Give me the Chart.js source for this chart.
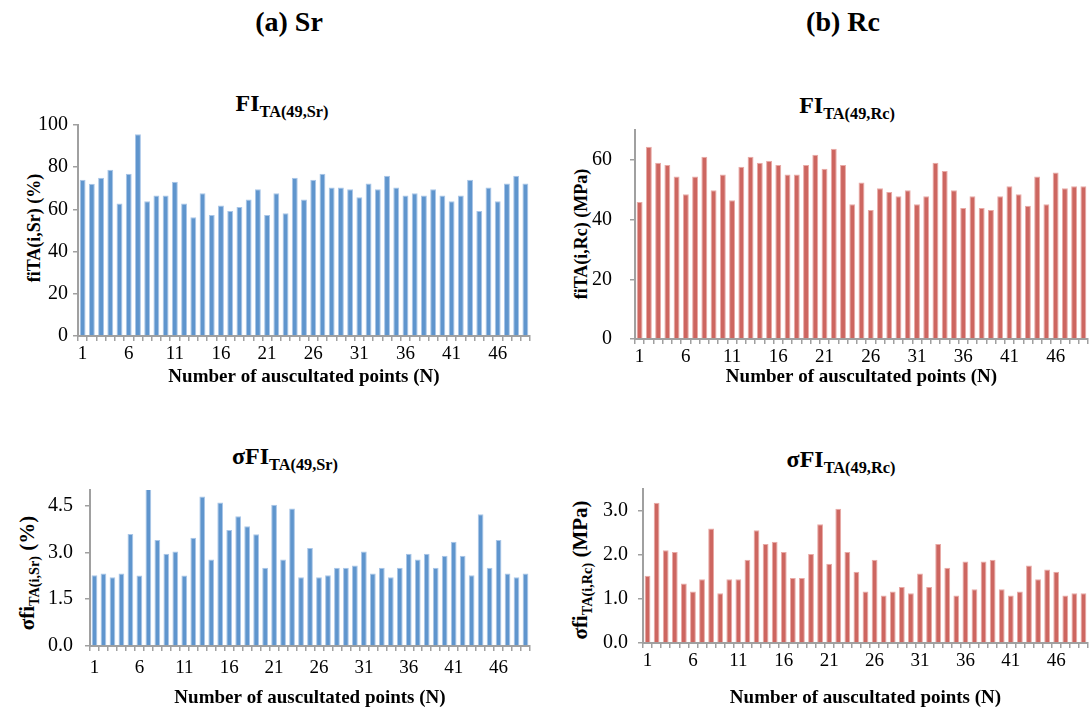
<!DOCTYPE html>
<html>
<head>
<meta charset="utf-8">
<script src="https://cdn.jsdelivr.net/npm/chart.js@4"></script>
<style>
    body {
        margin: 0;
        width: 1092px;
        height: 721px;
        background: #fff;
        position: relative;
        overflow: hidden;
        font-family: "Liberation Serif", "Times New Roman", serif;
        color: #000;
    }
    canvas { position: absolute; }
    .t {
        position: absolute;
        font-weight: bold;
        white-space: nowrap;
        transform: translate(-50%, -50%);
    }
    .yt {
        position: absolute;
        font-weight: bold;
        white-space: nowrap;
        font-size: 18px;
        transform: translate(-50%, -50%) rotate(-90deg);
    }
    sub { font-size: 0.68em; vertical-align: -0.35em; }
</style>
</head>
<body>

<div class="t" style="left:289px;top:22px;font-size:28px">(a) Sr</div>
<div class="t" style="left:843px;top:22px;font-size:28px">(b) Rc</div>

<div class="t" style="left:282px;top:106px;font-size:24px">FI<sub>TA(49,Sr)</sub></div>
<div class="t" style="left:847px;top:108px;font-size:24px">FI<sub>TA(49,Rc)</sub></div>
<div class="t" style="left:285px;top:459px;font-size:24px">σFI<sub>TA(49,Sr)</sub></div>
<div class="t" style="left:841px;top:462px;font-size:24px">σFI<sub>TA(49,Rc)</sub></div>

<div class="yt" style="left:34px;top:228px">fiTA(i,Sr) (%)</div>
<div class="yt" style="left:581px;top:234px">fiTA(i,Rc) (MPa)</div>
<div class="yt" style="left:29px;top:573px;font-size:21px">σfi<sub>TA(i,Sr)</sub> (%)</div>
<div class="yt" style="left:582px;top:570px;font-size:21px">σfi<sub>TA(i,Rc)</sub> (MPa)</div>

<canvas id="srMeanChart" width="540" height="283" style="left:0px;top:108px"></canvas>
<canvas id="rcMeanChart" width="547" height="291" style="left:545px;top:100px"></canvas>
<canvas id="srSigmaChart" width="540" height="246" style="left:0px;top:466px"></canvas>
<canvas id="rcSigmaChart" width="547" height="245" style="left:545px;top:467px"></canvas>

<script>
// auscultated points N = 1..49
const points = ["1", "2", "3", "4", "5", "6", "7", "8", "9", "10",
    "11", "12", "13", "14", "15", "16", "17", "18", "19", "20",
    "21", "22", "23", "24", "25", "26", "27", "28", "29", "30",
    "31", "32", "33", "34", "35", "36", "37", "38", "39", "40",
    "41", "42", "43", "44", "45", "46", "47", "48", "49"];

// only every 5th point gets a label
const shownLabels = ["1", "6", "11", "16", "21", "26", "31", "36", "41", "46"];

// y tick values of each panel
const srMeanTicks = [0, 20, 40, 60, 80, 100];
const rcMeanTicks = [0, 20, 40, 60];
const srSigmaTicks = [0, 1.5, 3.0, 4.5];
const rcSigmaTicks = [0, 1.0, 2.0, 3.0];

// fiTA(i,Sr) (%)
const srMean = [74, 72.2, 75, 78.8, 62.8, 76.9, 95.6, 63.9, 66.6, 66.6,
    73.1, 62.8, 56.3, 67.6, 57.3, 61.9, 59.2, 61.1, 64.7, 69.5,
    57.3, 67.6, 58.2, 75, 64.7, 74, 76.9, 70.4, 70.4, 69.5,
    65.7, 72.3, 69.5, 75.9, 70.4, 66.6, 67.6, 66.6, 69.5, 66.6,
    63.9, 66.6, 74, 59.2, 70.4, 63.9, 72.3, 75.9, 72.3];

// fiTA(i,Rc) (MPa)
const rcMean = [45.9, 64.4, 59, 58.3, 54.4, 48.5, 54.4, 61, 49.8, 55.1,
    46.5, 57.7, 61, 59, 59.7, 58.3, 55.1, 55.1, 58.3, 61.7,
    57, 63.7, 58.3, 45.1, 52.4, 43.2, 50.5, 49.2, 47.8, 49.8,
    45.1, 47.8, 59, 56.3, 49.8, 43.9, 47.8, 43.9, 43.2, 47.8,
    51.2, 48.5, 44.6, 54.4, 45.1, 55.8, 50.5, 51.2, 51.2];

// σfiTA(i,Sr) (%)
const srSigma = [2.27, 2.32, 2.2, 2.32, 3.59, 2.26, 5.08, 3.4, 2.96, 3.03,
    2.26, 3.47, 4.79, 2.77, 4.6, 3.72, 4.16, 3.84, 3.58, 2.51,
    4.53, 2.77, 4.41, 2.2, 3.14, 2.2, 2.27, 2.51, 2.51, 2.58,
    3.03, 2.32, 2.51, 2.2, 2.51, 2.96, 2.77, 2.96, 2.51, 2.89,
    3.34, 2.89, 2.27, 4.22, 2.51, 3.4, 2.32, 2.2, 2.32];

// σfiTA(i,Rc) (MPa)
const rcSigma = [1.53, 3.19, 2.11, 2.07, 1.35, 1.17, 1.45, 2.6, 1.13, 1.45,
    1.45, 1.89, 2.56, 2.25, 2.3, 2.07, 1.48, 1.48, 2.02, 2.7,
    1.8, 3.05, 2.07, 1.62, 1.17, 1.89, 1.08, 1.17, 1.27, 1.13,
    1.58, 1.27, 2.25, 1.71, 1.08, 1.85, 1.22, 1.85, 1.89, 1.22,
    1.08, 1.17, 1.76, 1.45, 1.67, 1.62, 1.08, 1.13, 1.13];

const BLUE = "#5f95cd";
const BLUE_EDGE = "#a9c6e8";
const RED = "#cd6660";
const RED_EDGE = "#e9aaa6";
const AXIS = "#a0a0a0";
const FONT = "'Liberation Serif', 'Times New Roman', serif";

/**
 * Build one of the four bar panels.
 * yAxisWidth / xAxisHeight pin the plot area so the panels line up.
 */
function drawPanel(id, values, color, edge, yMax, yTicks, decimals, yAxisWidth, xAxisHeight, padRight, yPad, xPad) {
    new Chart(document.getElementById(id), {
        type: "bar",
        data: {
            labels: points,
            datasets: [{
                data: values,
                backgroundColor: color,
                borderColor: edge,
                borderWidth: 1,
                barPercentage: 0.64,
                categoryPercentage: 1.0,
            }],
        },
        options: {
            responsive: false,
            animation: false,
            devicePixelRatio: 1,
            layout: { padding: { top: 0, right: padRight, bottom: 0, left: 0 } },
            plugins: { legend: { display: false }, tooltip: { enabled: false } },
            scales: {
                x: {
                    grid: { drawOnChartArea: false, drawTicks: true, tickLength: 5, color: AXIS, lineWidth: 1.5 },
                    border: { color: AXIS, width: 2 },
                    ticks: {
                        autoSkip: false,
                        maxRotation: 0,
                        padding: xPad,
                        color: "#000",
                        font: { family: FONT, size: 19 },
                        callback: (v, i) => shownLabels.includes(points[i]) ? points[i] : "",
                    },
                    title: {
                        display: true,
                        text: "Number of auscultated points (N)",
                        color: "#000",
                        font: { family: FONT, size: 19, weight: "bold" },
                        padding: { top: 0, bottom: 3 },
                    },
                    afterFit: (scale) => { scale.height = xAxisHeight; },
                },
                y: {
                    min: 0,
                    max: yMax,
                    grid: { drawOnChartArea: false, drawTicks: true, tickLength: 5, color: AXIS, lineWidth: 1.5 },
                    border: { color: AXIS, width: 2 },
                    ticks: {
                        padding: yPad,
                        color: "#000",
                        font: { family: FONT, size: 20 },
                        callback: (v) => v.toFixed(decimals),
                    },
                    afterBuildTicks: (scale) => {
                        scale.ticks = yTicks.map((v) => ({ value: v }));
                    },
                    afterFit: (scale) => { scale.width = yAxisWidth; },
                },
            },
        },
    });
}

drawPanel("srMeanChart", srMean, BLUE, BLUE_EDGE, 100, srMeanTicks, 0, 78, 55, 10, 5, 2);
drawPanel("rcMeanChart", rcMean, RED, RED_EDGE, 70, rcMeanTicks, 0, 90, 52, 4, 18, 2);
drawPanel("srSigmaChart", srSigma, BLUE, BLUE_EDGE, 5, srSigmaTicks, 1, 90, 66, 10, 12, 6);
drawPanel("rcSigmaChart", rcSigma, RED, RED_EDGE, 3.5, rcSigmaTicks, 1, 98, 69, 4, 10, 2);
</script>
</body>
</html>
